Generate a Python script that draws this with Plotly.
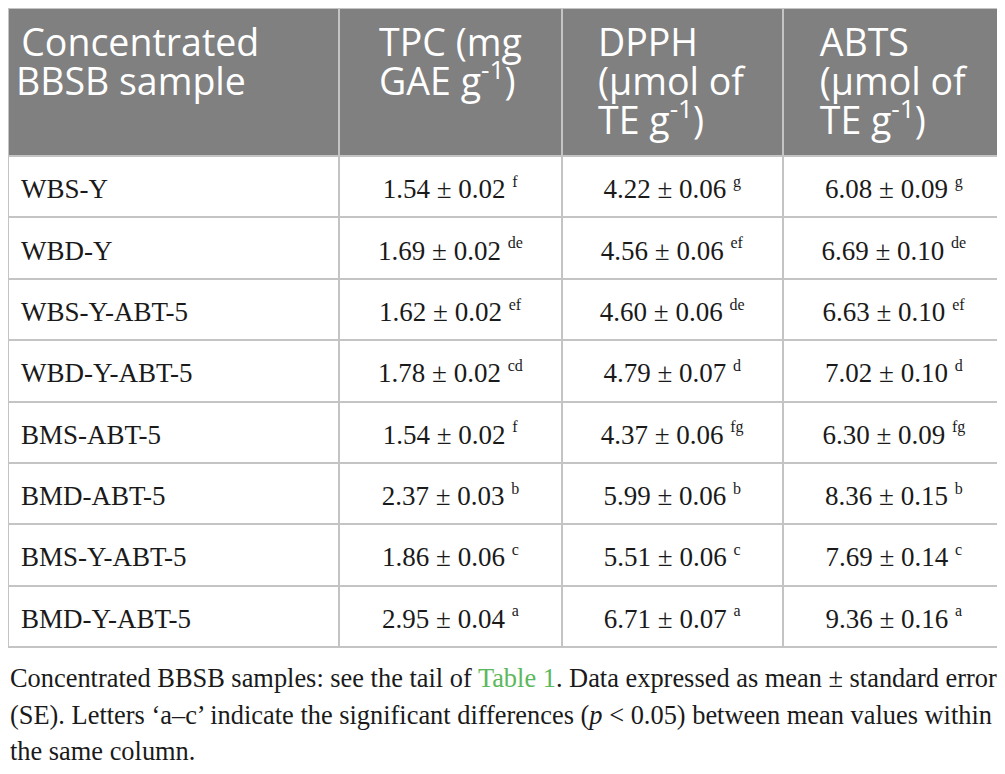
import plotly.graph_objects as go

samples = ["WBS-Y", "WBD-Y", "WBS-Y-ABT-5", "WBD-Y-ABT-5",
           "BMS-ABT-5", "BMD-ABT-5", "BMS-Y-ABT-5", "BMD-Y-ABT-5"]
tpc_mean = [1.54, 1.69, 1.62, 1.78, 1.54, 2.37, 1.86, 2.95]
tpc_se = [0.02, 0.02, 0.02, 0.02, 0.02, 0.03, 0.06, 0.04]
tpc_let = ["f", "de", "ef", "cd", "f", "b", "c", "a"]
dpph_mean = [4.22, 4.56, 4.60, 4.79, 4.37, 5.99, 5.51, 6.71]
dpph_se = [0.06, 0.06, 0.06, 0.07, 0.06, 0.06, 0.06, 0.07]
dpph_let = ["g", "ef", "de", "d", "fg", "b", "c", "a"]
abts_mean = [6.08, 6.69, 6.63, 7.02, 6.30, 8.36, 7.69, 9.36]
abts_se = [0.09, 0.10, 0.10, 0.10, 0.09, 0.15, 0.14, 0.16]
abts_let = ["g", "de", "ef", "d", "fg", "b", "c", "a"]

headers = ["Concentrated<br>BBSB sample",
           "TPC (mg<br>GAE g<sup>-1</sup>)",
           "DPPH<br>(μmol of<br>TE g<sup>-1</sup>)",
           "ABTS<br>(μmol of<br>TE g<sup>-1</sup>)"]

caption_lines = [
    "Concentrated BBSB samples: see the tail of <span style='color:#5cb85c'>Table 1</span>. Data expressed as mean ± standard error",
    "(SE). Letters ‘a–c’ indicate the significant differences (<i>p</i> < 0.05) between mean values within",
    "the same column.",
]

HFS = 37.5
BFS = 27
NB = "\u00a0"
PAD = f"<span style='font-size:20px'>{NB}</span>"
LEAD = f"<span style='font-size:15.5px'>{NB}</span><br>"


def hdr(t, first=False):
    parts = t.split("<br>")
    out = "<br>".join(f"<span style='font-size:{HFS}px'>{p}</span>" for p in parts)
    return (PAD + out) if first else out


def cell(m, s, l):
    return (LEAD + f"<span style='font-size:{BFS}px'>{m:.2f}{NB}±{NB}{s:.2f}{NB}"
            f"<sup><span style='font-size:16px'>{l}</span></sup></span>")


def name(n):
    return LEAD + PAD + f"<span style='font-size:{BFS}px'>{n}</span>"


col0 = [name(n) for n in samples]
col1 = [cell(m, s, l) for m, s, l in zip(tpc_mean, tpc_se, tpc_let)]
col2 = [cell(m, s, l) for m, s, l in zip(dpph_mean, dpph_se, dpph_let)]
col3 = [cell(m, s, l) for m, s, l in zip(abts_mean, abts_se, abts_let)]

line_col = "#c4c4c4"

fig = go.Figure(go.Table(
    columnwidth=[331, 222, 221, 222],
    header=dict(
        values=[hdr(h, i == 0) for i, h in enumerate(headers)],
        fill_color="#7f807f",
        line=dict(color=line_col, width=2),
        align=["left", "center", "center", "center"],
        font=dict(family="Open Sans", size=30, color="white"),
        height=148,
    ),
    cells=dict(
        values=[col0, col1, col2, col3],
        fill_color="white",
        line=dict(color=line_col, width=2),
        align=["left", "center", "center", "center"],
        font=dict(family="Liberation Serif", size=15.5, color="#1a1a1a"),
        height=61.375,
    ),
    domain=dict(x=[0, 1], y=[0, 1]),
))

fig.update_layout(
    width=997, height=766,
    margin=dict(l=0, r=0, t=0, b=0),
    paper_bgcolor="white",
)

for i, ln in enumerate(caption_lines):
    fig.add_annotation(
        text=ln, xref="paper", yref="paper", x=0, xanchor="left",
        y=1, yanchor="top", yshift=-(653 + 36.5 * i),
        showarrow=False, align="left",
        font=dict(family="Liberation Serif", size=26.4, color="#1a1a1a"),
    )

fig.write_html("out.html")
